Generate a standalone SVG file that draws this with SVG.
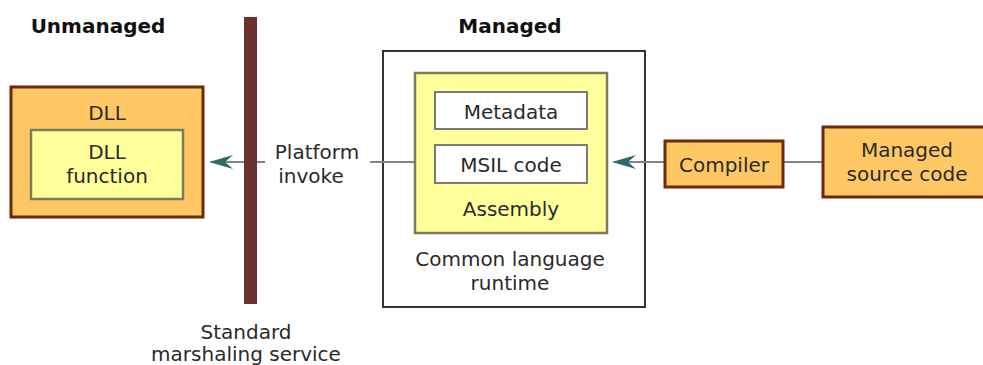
<svg xmlns="http://www.w3.org/2000/svg" width="983" height="365" viewBox="0 0 983 365">
  <style>
    text { font-family: "DejaVu Sans", Verdana, sans-serif; font-size: 20px; fill: #2A2A2A; text-anchor: middle; }
    .hdr { font-weight: bold; font-size: 20px; fill: #111; }
    .orange { fill: #FFC864; stroke: #6B2A0C; stroke-width: 3; }
    .yellow { fill: #FFFF9C; stroke: #7C7C58; stroke-width: 2.5; }
    .white { fill: #FFFFFF; stroke: #7A7A7A; stroke-width: 2; }
    .clr { fill: #FFFFFF; stroke: #333333; stroke-width: 2; }
    .link { fill: none; stroke: #7F8585; stroke-width: 2; }
  </style>
  <defs>
    <!-- barbed arrowhead, tip at the end of the path -->
    <marker id="arrow" viewBox="0 0 24 14" refX="22" refY="7" markerWidth="24" markerHeight="14" markerUnits="userSpaceOnUse" orient="auto">
      <path d="M24,7 L0,0 L8,7 L0,14 Z" fill="#2E6A6A"/>
    </marker>
  </defs>

  <rect width="983" height="365" fill="#FFFFFF"/>

  <text class="hdr" x="98" y="33">Unmanaged</text>
  <text class="hdr" x="510" y="33">Managed</text>

  <!-- runtime frame sits beneath the connectors -->
  <g id="clr">
    <rect class="clr" x="383" y="51" width="262" height="256"/>
    <text x="510" y="266">Common language</text>
    <text x="510" y="290">runtime</text>
  </g>

  <g id="connectors">
    <path class="link" d="M265,162 H211" marker-end="url(#arrow)"/>
    <path class="link" d="M370,162 H415"/>
    <path class="link" d="M665,162 H614" marker-end="url(#arrow)"/>
    <path class="link" d="M783,162 H823"/>
  </g>

  <g id="marshaling">
    <rect x="244" y="17" width="13" height="287" fill="#6B3030"/>
    <text x="246" y="339">Standard</text>
    <text x="246" y="361">marshaling service</text>
  </g>

  <g id="platform-invoke">
    <text x="317" y="159">Platform</text>
    <text x="311" y="183">invoke</text>
  </g>

  <g id="dll">
    <rect class="orange" x="11" y="87" width="192" height="130"/>
    <text x="107" y="120">DLL</text>
  </g>

  <g id="dll-function">
    <rect class="yellow" x="31" y="130" width="152" height="69"/>
    <text x="107" y="159">DLL</text>
    <text x="107" y="183">function</text>
  </g>

  <g id="assembly">
    <rect class="yellow" x="415" y="73" width="192" height="160"/>
    <text x="511" y="216">Assembly</text>
  </g>

  <g id="metadata">
    <rect class="white" x="435" y="92" width="152" height="37"/>
    <text x="511" y="119">Metadata</text>
  </g>

  <g id="msil">
    <rect class="white" x="435" y="145" width="152" height="38"/>
    <text x="511" y="172">MSIL code</text>
  </g>

  <g id="compiler">
    <rect class="orange" x="665" y="141" width="118" height="46"/>
    <text x="724" y="172">Compiler</text>
  </g>

  <g id="source">
    <rect class="orange" x="823" y="127" width="170" height="70"/>
    <text x="907" y="157">Managed</text>
    <text x="907" y="181">source code</text>
  </g>
</svg>
